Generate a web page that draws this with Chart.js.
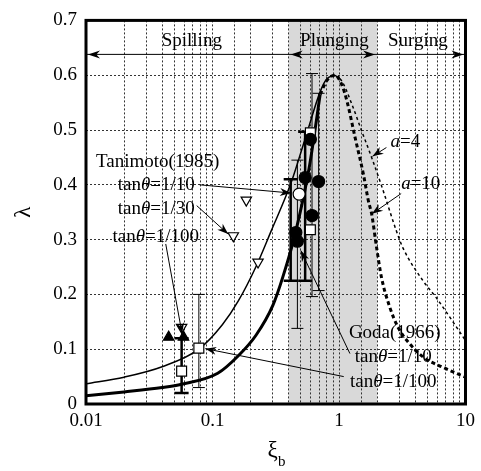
<!DOCTYPE html>
<html>
<head>
<meta charset="utf-8">
<script src="https://cdn.jsdelivr.net/npm/chart.js@4"></script>
<style>
  html, body { margin: 0; padding: 0; background: #fff; }
</style>
</head>
<body>
<canvas id="chart" width="481" height="471"></canvas>
<script>
// axes
const xiTicks = [0.01, 0.1, 1, 10];
const xiTickLabels = ['0.01', '0.1', '1', '10'];
const regimeBounds = [0.01, 0.4, 2, 10];

// curves
const thinXi = [0.01, 0.02, 0.04, 0.078, 0.12, 0.16, 0.22, 0.29, 0.42, 0.55, 0.71, 0.8, 0.93];
const thinLam = [0.037, 0.049, 0.068, 0.10, 0.145, 0.188, 0.25, 0.315, 0.405, 0.49, 0.57, 0.593, 0.6];
const thickXi = [0.01, 0.02, 0.04, 0.057, 0.11, 0.16, 0.22, 0.3, 0.36, 0.45, 0.58, 0.71];
const thickLam = [0.015, 0.022, 0.03, 0.036, 0.056, 0.088, 0.125, 0.18, 0.232, 0.31, 0.43, 0.565];
const a10Xi = [0.71, 0.8, 0.93, 1.055, 1.155, 1.341, 1.56, 1.706, 1.811, 1.981, 2.167, 2.517, 2.927, 3.587, 4.61, 6.61, 10];
const a10Lam = [0.565, 0.59, 0.6, 0.582, 0.553, 0.486, 0.419, 0.371, 0.347, 0.286, 0.231, 0.177, 0.14, 0.111, 0.086, 0.067, 0.049];
const a4Xi = [0.93, 1.055, 1.264, 1.512, 1.811, 2.207, 2.84, 3.2, 4.61, 5.83, 10];
const a4Lam = [0.6, 0.589, 0.547, 0.498, 0.45, 0.393, 0.316, 0.285, 0.225, 0.195, 0.116];

// measurements
const godaSteepXi = [0.456, 0.469, 0.54, 0.594, 0.612, 0.69];
const godaSteepLam = [0.313, 0.297, 0.413, 0.483, 0.344, 0.406];
const godaMildXi = [0.057, 0.078, 0.594, 0.594];
const godaMildLam = [0.06, 0.102, 0.318, 0.495];
const taniSteepXi = [0.484];
const taniSteepLam = [0.383];
const taniMidXi = [0.057, 0.146, 0.185, 0.229];
const taniMidLam = [0.14, 0.307, 0.372, 0.259];
const taniMildXi = [0.045, 0.059];
const taniMildLam = [0.122, 0.122];

// error bars
const errXi = [0.057, 0.078, 0.415, 0.469, 0.54, 0.612, 0.69];
const errLo = [0.02, 0.03, 0.225, 0.138, 0.225, 0.196, 0.207];
const errHi = [0.12, 0.20, 0.41, 0.445, 0.497, 0.603, 0.567];
const errHeavy = [true, false, true, false, true, false, false];

const FONT = '"Liberation Serif", "Times New Roman", serif';
const FS = 19;
const pts = (xs, ys) => xs.map((x, i) => ({ x: x, y: ys[i] }));

function fontOf(italic, size) {
  return (italic ? 'italic ' : '') + (size || FS) + 'px ' + FONT;
}

function drawRich(ctx, parts, x, y, align) {
  let w = 0;
  parts.forEach(p => { ctx.font = fontOf(p[1]); w += ctx.measureText(p[0]).width; });
  let cx = align === 'center' ? x - w / 2 : x;
  parts.forEach(p => {
    ctx.font = fontOf(p[1]);
    ctx.fillText(p[0], cx, y);
    cx += ctx.measureText(p[0]).width;
  });
}

function arrowHead(ctx, x0, y0, x1, y1, len, half) {
  const a = Math.atan2(y1 - y0, x1 - x0);
  ctx.save();
  ctx.translate(x1, y1);
  ctx.rotate(a);
  ctx.beginPath();
  ctx.moveTo(0, 0);
  ctx.lineTo(-len, -half);
  ctx.lineTo(-len * 0.7, 0);
  ctx.lineTo(-len, half);
  ctx.closePath();
  ctx.fill();
  ctx.restore();
}

const tan = s => [['tan', false], ['\u03B8', true], ['=' + s, false]];
const labels = [
  { at: [0.0686, 0.662], parts: [['Spilling', false]], align: 'center' },
  { at: [0.92, 0.662], parts: [['Plunging', false]], align: 'center' },
  { at: [4.2, 0.662], parts: [['Surging', false]], align: 'center' },
  { at: [0.012, 0.442], parts: [['Tanimoto(1985)', false]] },
  { at: [0.0178, 0.40], parts: tan('1/10') },
  { at: [0.0178, 0.355], parts: tan('1/30') },
  { at: [0.0162, 0.304], parts: tan('1/100') },
  { at: [1.197, 0.13], parts: [['Goda(1966)', false]] },
  { at: [1.33, 0.086], parts: tan('1/10') },
  { at: [1.22, 0.0405], parts: tan('1/100') },
  { at: [2.55, 0.478], parts: [['a', true], ['=4', false]] },
  { at: [3.1, 0.402], parts: [['a', true], ['=10', false]] }
];
const pointers = [
  [[0.079, 0.40], [0.417, 0.385]],
  [[0.075, 0.362], [0.133, 0.31]],
  [[0.0427, 0.292], [0.0575, 0.128]],
  [[1.22, 0.092], [0.499, 0.28]],
  [[1.09, 0.05], [0.0877, 0.101]],
  [[2.37, 0.468], [1.84, 0.452]],
  [[3.1, 0.384], [1.82, 0.347]]
];

const decor = {
  id: 'decor',
  beforeDraw(chart) {
    const { ctx, chartArea: a, scales: { x } } = chart;
    ctx.save();
    ctx.fillStyle = '#fff';
    ctx.fillRect(0, 0, chart.width, chart.height);
    ctx.fillStyle = '#d9d9d9';
    const x0 = x.getPixelForValue(regimeBounds[1]);
    const x1 = x.getPixelForValue(regimeBounds[2]);
    ctx.fillRect(x0, a.top, x1 - x0, a.bottom - a.top);
    ctx.restore();
  },
  beforeDatasetsDraw(chart) {
    const { ctx, scales: { x, y } } = chart;
    ctx.save();
    ctx.strokeStyle = '#000';
    errXi.forEach((xi, i) => {
      const px = x.getPixelForValue(xi);
      const lo = y.getPixelForValue(errLo[i]);
      const hi = y.getPixelForValue(errHi[i]);
      const half = errHeavy[i] ? 7 : 6;
      ctx.lineWidth = errHeavy[i] ? 2.5 : 1;
      ctx.beginPath();
      ctx.moveTo(px, lo); ctx.lineTo(px, hi);
      ctx.moveTo(px - half, lo); ctx.lineTo(px + half, lo);
      ctx.moveTo(px - half, hi); ctx.lineTo(px + half, hi);
      ctx.stroke();
    });
    ctx.restore();
  },
  afterDraw(chart) {
    const { ctx, chartArea: a, scales: { x, y } } = chart;
    ctx.save();
    ctx.fillStyle = '#000';
    ctx.strokeStyle = '#000';

    // breaker type arrow
    const ry = y.getPixelForValue(0.638);
    const bx = regimeBounds.map(v => x.getPixelForValue(v));
    ctx.lineWidth = 1;
    ctx.beginPath();
    ctx.moveTo(bx[0], ry); ctx.lineTo(bx[3], ry);
    ctx.stroke();
    arrowHead(ctx, bx[0] + 20, ry, bx[0] + 2, ry, 12, 4);
    arrowHead(ctx, bx[1] + 20, ry, bx[1] + 2, ry, 12, 4);
    arrowHead(ctx, bx[2] - 20, ry, bx[2] - 2, ry, 12, 4);
    arrowHead(ctx, bx[3] - 20, ry, bx[3] - 2, ry, 12, 4);

    // pointers
    pointers.forEach(p => {
      const fx = x.getPixelForValue(p[0][0]), fy = y.getPixelForValue(p[0][1]);
      const tx = x.getPixelForValue(p[1][0]), ty = y.getPixelForValue(p[1][1]);
      ctx.lineWidth = 1;
      ctx.beginPath();
      ctx.moveTo(fx, fy); ctx.lineTo(tx, ty);
      ctx.stroke();
      arrowHead(ctx, fx, fy, tx, ty, 11, 4);
    });

    // labels
    ctx.textBaseline = 'middle';
    ctx.textAlign = 'left';
    labels.forEach(l => {
      drawRich(ctx, l.parts, x.getPixelForValue(l.at[0]), y.getPixelForValue(l.at[1]), l.align);
    });

    // axis titles
    ctx.save();
    ctx.translate(24, (a.top + a.bottom) / 2);
    ctx.rotate(-Math.PI / 2);
    ctx.textAlign = 'center';
    ctx.font = '23px ' + FONT;
    ctx.fillText('\u03BB', 0, 0);
    ctx.restore();
    const cx = (a.left + a.right) / 2;
    ctx.textAlign = 'left';
    ctx.font = '23px ' + FONT;
    const w = ctx.measureText('\u03BE').width;
    ctx.fillText('\u03BE', cx - w / 2 - 3, 451);
    ctx.font = '15px ' + FONT;
    ctx.fillText('b', cx + w / 2 - 3, 462);

    // frame
    ctx.lineWidth = 3;
    ctx.strokeRect(a.left, a.top, a.right - a.left, a.bottom - a.top);
    ctx.restore();
  }
};

const curve = (xs, ys, width, dash) => ({
  data: pts(xs, ys), showLine: true, borderColor: '#000', borderWidth: width,
  borderDash: dash, pointRadius: 0, fill: false, cubicInterpolationMode: 'monotone'
});
const marks = (xs, ys, style, r, fill, rot) => ({
  data: pts(xs, ys), pointStyle: style, pointRadius: r, pointBackgroundColor: fill,
  pointBorderColor: '#000', pointBorderWidth: 1.2, pointRotation: rot || 0, showLine: false
});

new Chart(document.getElementById('chart'), {
  type: 'scatter',
  data: {
    datasets: [
      marks(godaSteepXi, godaSteepLam, 'circle', 6, '#000'),
      marks(taniSteepXi, taniSteepLam, 'circle', 6, '#fff'),
      marks(godaMildXi, godaMildLam, 'rect', 7, '#fff'),
      marks(taniMildXi, taniMildLam, 'triangle', 6, '#000'),
      marks(taniMidXi, taniMidLam, 'triangle', 6, '#fff', 180),
      curve(thinXi, thinLam, 1.5, []),
      curve(thickXi, thickLam, 3, []),
      curve(a10Xi, a10Lam, 3, [4, 3]),
      curve(a4Xi, a4Lam, 1.5, [3, 3])
    ]
  },
  options: {
    responsive: false,
    animation: false,
    layout: { padding: { top: 19, right: 11, left: 0, bottom: 0 } },
    plugins: { legend: { display: false }, tooltip: { enabled: false } },
    scales: {
      x: {
        type: 'logarithmic', min: 0.01, max: 10,
        afterFit: s => { s.height = 67; },
        grid: { color: '#333', lineWidth: 1, drawTicks: false },
        border: { display: false, dash: [2, 2] },
        ticks: {
          font: { family: FONT, size: FS }, color: '#000', padding: 6,
          maxRotation: 0, autoSkip: false,
          callback: v => {
            const i = xiTicks.findIndex(t => Math.abs(t - v) / t < 1e-6);
            return i >= 0 ? xiTickLabels[i] : '';
          }
        }
      },
      y: {
        min: 0, max: 0.7,
        afterFit: s => { s.width = 86; },
        grid: { color: '#333', lineWidth: 1, drawTicks: false },
        border: { display: false, dash: [2, 2] },
        ticks: {
          stepSize: 0.1, font: { family: FONT, size: FS }, color: '#000', padding: 9,
          callback: v => (Math.abs(v) < 1e-9 ? '0' : v.toFixed(1))
        }
      }
    }
  },
  plugins: [decor]
});
</script>
</body>
</html>
